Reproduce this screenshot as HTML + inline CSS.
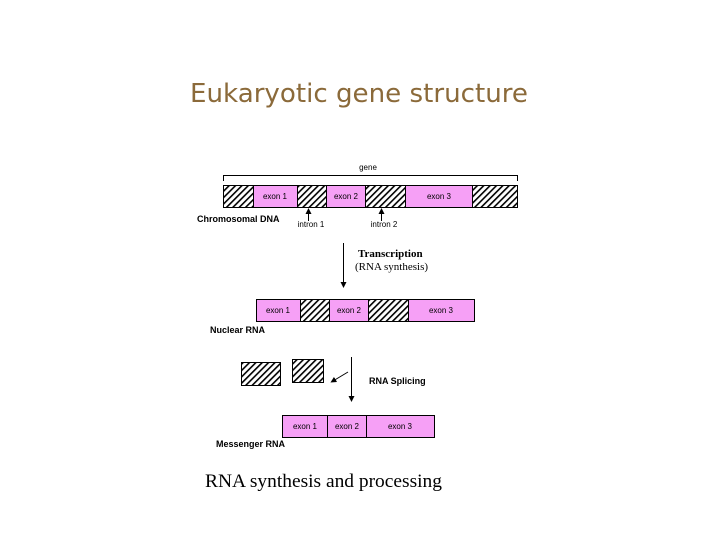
<!DOCTYPE html>
<html><head><meta charset="utf-8"><style>
html,body{margin:0;padding:0;background:#fff;}
svg{display:block;}
</style></head><body>
<svg width="720" height="540" viewBox="0 0 720 540" xmlns="http://www.w3.org/2000/svg">
<defs>
<pattern id="h" patternUnits="userSpaceOnUse" width="4.5" height="4.5" patternTransform="rotate(45)">
<rect width="4.5" height="4.5" fill="#fff"/><rect width="1.6" height="4.5" fill="#000"/>
</pattern>
<marker id="a" markerWidth="6" markerHeight="6" refX="3" refY="3" orient="auto"><path d="M0,0 L6,3 L0,6 z" fill="#000"/></marker>
</defs>
<text x="359" y="102" text-anchor="middle" font-family="DejaVu Sans, sans-serif" font-size="26" textLength="338" lengthAdjust="spacingAndGlyphs" fill="#8b6a3a">Eukaryotic gene structure</text>

<path d="M223.5,181 V175.5 H517.5 V181" fill="none" stroke="#000" stroke-width="1"/>
<text x="368" y="170" text-anchor="middle" font-family="Liberation Sans, sans-serif" font-size="8">gene</text>

<g stroke="#000" stroke-width="1">
<rect x="223.5" y="185.5" width="30" height="22" fill="url(#h)"/>
<rect x="253.5" y="185.5" width="44" height="22" fill="#f6a0f6"/>
<rect x="297.5" y="185.5" width="29" height="22" fill="url(#h)"/>
<rect x="326.5" y="185.5" width="39" height="22" fill="#f6a0f6"/>
<rect x="365.5" y="185.5" width="40" height="22" fill="url(#h)"/>
<rect x="405.5" y="185.5" width="67" height="22" fill="#f6a0f6"/>
<rect x="472.5" y="185.5" width="45" height="22" fill="url(#h)"/>
</g>
<g font-family="Liberation Sans, sans-serif" font-size="8" text-anchor="middle">
<text x="275" y="199">exon 1</text><text x="346" y="199">exon 2</text><text x="439" y="199">exon 3</text>
</g>
<text x="197" y="222" font-family="Liberation Sans, sans-serif" font-size="9" font-weight="bold">Chromosomal DNA</text>
<line x1="308.5" y1="221" x2="308.5" y2="211" stroke="#000" marker-end="url(#a)"/>
<line x1="381.5" y1="221" x2="381.5" y2="211" stroke="#000" marker-end="url(#a)"/>
<text x="311" y="227" text-anchor="middle" font-family="Liberation Sans, sans-serif" font-size="8">intron 1</text>
<text x="384" y="227" text-anchor="middle" font-family="Liberation Sans, sans-serif" font-size="8">intron 2</text>

<line x1="343.5" y1="243" x2="343.5" y2="285" stroke="#000" marker-end="url(#a)"/>
<text x="358" y="257" font-family="Liberation Serif, serif" font-size="11" font-weight="bold">Transcription</text>
<text x="355" y="270" font-family="Liberation Serif, serif" font-size="11">(RNA synthesis)</text>

<g stroke="#000" stroke-width="1">
<rect x="256.5" y="299.5" width="44" height="22" fill="#f6a0f6"/>
<rect x="300.5" y="299.5" width="29" height="22" fill="url(#h)"/>
<rect x="329.5" y="299.5" width="39" height="22" fill="#f6a0f6"/>
<rect x="368.5" y="299.5" width="40" height="22" fill="url(#h)"/>
<rect x="408.5" y="299.5" width="66" height="22" fill="#f6a0f6"/>
</g>
<g font-family="Liberation Sans, sans-serif" font-size="8" text-anchor="middle">
<text x="278" y="313">exon 1</text><text x="349" y="313">exon 2</text><text x="441" y="313">exon 3</text>
</g>
<text x="210" y="333" font-family="Liberation Sans, sans-serif" font-size="9" font-weight="bold">Nuclear RNA</text>

<rect x="241.5" y="362.5" width="39" height="23" fill="url(#h)" stroke="#000"/>
<rect x="292.5" y="359.5" width="31" height="23" fill="url(#h)" stroke="#000"/>
<line x1="351.5" y1="357" x2="351.5" y2="399" stroke="#000" marker-end="url(#a)"/>
<line x1="348" y1="372" x2="333" y2="381" stroke="#000" marker-end="url(#a)"/>
<text x="369" y="384" font-family="Liberation Sans, sans-serif" font-size="9" font-weight="bold">RNA Splicing</text>

<g stroke="#000" stroke-width="1" fill="#f6a0f6">
<rect x="282.5" y="415.5" width="45" height="22"/>
<rect x="327.5" y="415.5" width="39" height="22"/>
<rect x="366.5" y="415.5" width="68" height="22"/>
</g>
<g font-family="Liberation Sans, sans-serif" font-size="8" text-anchor="middle">
<text x="305" y="429">exon 1</text><text x="347" y="429">exon 2</text><text x="400" y="429">exon 3</text>
</g>
<text x="216" y="447" font-family="Liberation Sans, sans-serif" font-size="9" font-weight="bold">Messenger RNA</text>

<text x="205" y="487" font-family="Liberation Serif, serif" font-size="19" textLength="237" lengthAdjust="spacingAndGlyphs">RNA synthesis and processing</text>
</svg>
</body></html>
